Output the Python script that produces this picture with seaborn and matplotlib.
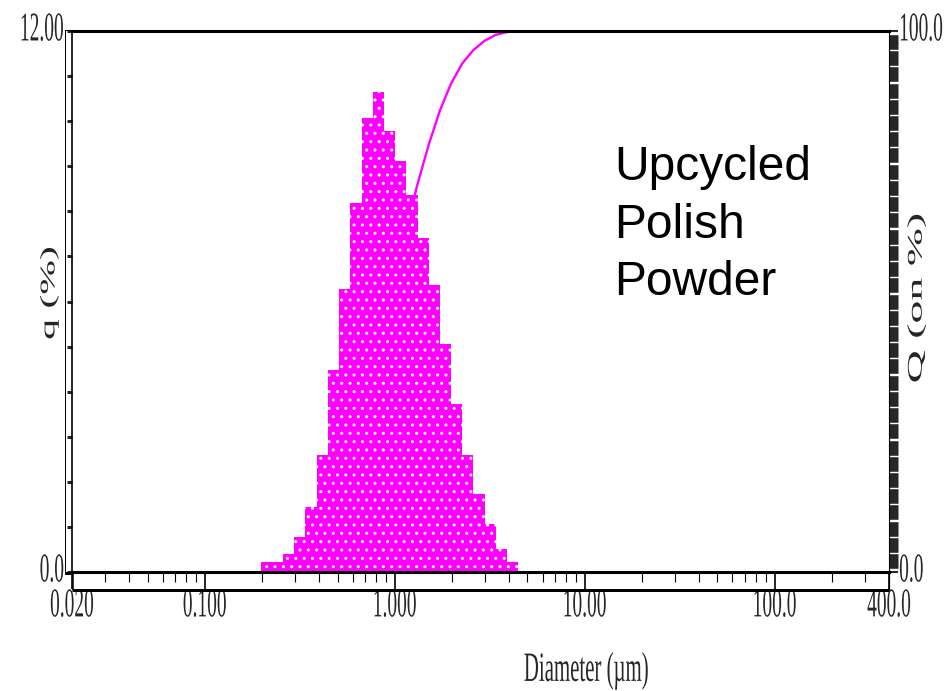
import numpy as np
import pandas as pd
import matplotlib
matplotlib.use("Agg")
import matplotlib.pyplot as plt
import seaborn as sns
from matplotlib.lines import Line2D
from matplotlib.patheffects import AbstractPathEffect
from matplotlib.transforms import Affine2D

# ---------------- data ----------------
bin_edges_um = [0.197, 0.226, 0.259, 0.296, 0.339, 0.389, 0.445, 0.510, 0.584,
                0.669, 0.766, 0.877, 1.005, 1.151, 1.318, 1.510, 1.729, 1.980,
                2.268, 2.598, 2.976, 3.408, 3.904, 4.472]
q_percent = [0.22, 0.22, 0.40, 0.78, 1.44, 2.60, 4.48, 6.28, 8.19, 10.07, 10.65,
             9.78, 9.12, 8.36, 7.41, 6.37, 5.06, 3.73, 2.60, 1.73, 1.06, 0.51, 0.22]
Q_diam_um = bin_edges_um + [400.0]
Q_percent = [0.0, 0.2, 0.4, 0.8, 1.6, 3.0, 5.6, 10.0, 16.2, 24.3, 34.2, 44.8, 54.4,
             63.4, 71.7, 79.0, 85.3, 90.3, 94.0, 96.5, 98.2, 99.3, 99.8, 100.0, 100.0]

x_tick_values = [0.02, 0.1, 1, 10, 100, 400]
x_tick_labels = ["0.020", "0.100", "1.000", "10.00", "100.0", "400.0"]
x_minor_values = [0.03, 0.04, 0.05, 0.06, 0.07, 0.08, 0.09,
                  0.2, 0.3, 0.4, 0.5, 0.6, 0.7, 0.8, 0.9,
                  2, 3, 4, 5, 6, 7, 8, 9,
                  20, 30, 40, 50, 60, 70, 80, 90, 200, 300]
left_tick_values = [0, 12]
left_tick_labels = ["0.0", "12.00"]
left_minor_values = [1, 2, 3, 4, 5, 6, 7, 8, 9, 10, 11]
right_tick_values = [0, 100]
right_tick_labels = ["0.0", "100.0"]
right_minor_values = list(range(2, 100, 3))

annotation = "Upcycled\nPolish\nPowder"
MAG = "#FF00FF"

# ---------------- style ----------------
sns.set_style("white")
plt.rcParams["font.family"] = ["Liberation Serif", "DejaVu Serif"]
plt.rcParams["hatch.linewidth"] = 1.0


class Stretch(AbstractPathEffect):
    """Draw text stretched around its own centre (mimics the narrow/tall font)."""

    def __init__(self, sx=1.0, sy=1.0, dx=0.0, dy=0.0):
        super().__init__()
        self.sx, self.sy, self.dx, self.dy = sx, sy, dx, dy

    def draw_path(self, renderer, gc, tpath, affine, rgbFace=None):
        ext = tpath.get_extents()
        cx = (ext.x0 + ext.x1) / 2.0
        cy = (ext.y0 + ext.y1) / 2.0
        t = (Affine2D().translate(-cx, -cy).scale(self.sx, self.sy).translate(cx, cy)
             + affine + Affine2D().translate(self.dx, self.dy))
        renderer.draw_path(gc, tpath, t, rgbFace)


W, H = 948, 691
fig = plt.figure(figsize=(W / 100, H / 100), dpi=100)
fig.patch.set_facecolor("white")
L, R, T, B = 72, 889, 31, 572
ax = fig.add_axes([L / W, 1 - B / H, (R - L) / W, (B - T) / H])
ax.set_xscale("log")
ax2 = ax.twinx()

# cumulative curve (behind the bars)
sns.lineplot(x=Q_diam_um, y=Q_percent, ax=ax2, color=MAG, linewidth=1.7, sort=False)

# frequency bars
centers = np.sqrt(np.array(bin_edges_um[:-1]) * np.array(bin_edges_um[1:]))
hist_df = pd.DataFrame({"diameter": centers, "q": q_percent})
log_edges = [float(v) for v in np.log10(bin_edges_um)]
sns.histplot(data=hist_df, x="diameter", weights="q", bins=log_edges, ax=ax,
             stat="count", color=MAG, alpha=1.0, edgecolor="white", linewidth=0,
             hatch="..")

ax.set_zorder(ax2.get_zorder() + 1)
ax.patch.set_visible(False)

ax.set_xlim(0.02, 400)
ax.set_ylim(0, 12)
ax2.set_ylim(0, 100)

# ---- x ticks ----
ax.set_xticks(x_tick_values)
ax.set_xticklabels(x_tick_labels)
ax.set_xticks(x_minor_values, minor=True)
ax.xaxis.set_minor_formatter(matplotlib.ticker.NullFormatter())
ax.tick_params(axis="x", which="major", direction="out", length=12.2, width=1.2,
               pad=5.4, labelsize=14, color="black", bottom=True)
ax.tick_params(axis="x", which="minor", direction="out", length=7.2, width=0.8,
               color="black", bottom=True)

# ---- left y ticks ----
ax.set_yticks(left_tick_values)
ax.set_yticklabels(left_tick_labels)
ax.set_yticks(left_minor_values, minor=True)
ax.tick_params(axis="y", which="both", direction="out", length=3.6, width=2.2,
               pad=2.2, labelsize=14, left=True, right=False)

# ---- right y ticks ----
ax2.set_yticks(right_tick_values)
ax2.set_yticklabels(right_tick_labels)
ax2.set_yticks(right_minor_values, minor=True)
ax2.tick_params(axis="y", which="major", direction="out", length=6.5, width=1.5,
                pad=0.8, labelsize=14, right=True, left=False)
ax2.tick_params(axis="y", which="minor", direction="out", length=6.5, width=10.5,
                right=True, left=False)
ax2.set_xlim(0.02, 400)

# ---- spines ----
for s in ["top", "bottom", "left"]:
    ax2.spines[s].set_visible(False)
ax.spines["right"].set_visible(False)
ax2.spines["right"].set_linewidth(0.8)
ax.spines["top"].set_linewidth(2.2)
ax.spines["bottom"].set_linewidth(2.2)
ax.spines["left"].set_linewidth(1.2)
for sp in list(ax.spines.values()) + list(ax2.spines.values()):
    sp.set_color("black")
ax.grid(False)
ax2.grid(False)

# ---- axis labels ----
ax.set_xlabel("Diameter (µm)", fontsize=15, va="center", ha="center")
ax.xaxis.set_label_coords((586.5 - L) / (R - L), (B - 671) / (B - T))
ax.set_ylabel("q (%)", fontsize=15, va="center", ha="center", rotation=90)
ax.yaxis.set_label_coords((49.5 - L) / (R - L), (B - 293) / (B - T))
ax2.set_ylabel("Q (on %)", fontsize=15, va="center", ha="center", rotation=90)
ax2.yaxis.set_label_coords((917 - L) / (R - L), (B - 298) / (B - T))

# ---- annotation ----
ax.text((614 - L) / (R - L), (B - 145) / (B - T), annotation, transform=ax.transAxes,
        fontsize=34.5, family=["Liberation Sans", "DejaVu Sans"], ha="left", va="top",
        linespacing=1.36, color="black")

# ---- frame decorations (outer band lines of the instrument plot) ----
def fx(x):
    return x / W


def fy(y):
    return 1 - y / H


frame_lines = [
    ([65, 65, 72], [574, 29.5, 29.5], 1.0),    # left outer line + top cap
    ([65, 72], [572.5, 572.5], 3.0),          # bottom line extension to the left
    ([72, 889], [589.5, 589.5], 3.0),         # lower band line
    ([72.5, 72.5], [572, 590], 1.5),          # band left edge
    ([889, 889], [572, 590], 1.2),            # band right edge
]
for xs, ys, lw in frame_lines:
    fig.add_artist(Line2D([fx(v) for v in xs], [fy(v) for v in ys], lw=lw * 0.72,
                          color="black", transform=fig.transFigure,
                          solid_capstyle="butt"))

# stretched (tall, narrow) serif look for the instrument texts
fig.canvas.draw()
for lab in ax.get_xticklabels():
    lab.set_path_effects([Stretch(sy=2.1)])
for lab in ax.get_yticklabels():
    lab.set_path_effects([Stretch(sy=2.1, dy=4)])
for lab in ax2.get_yticklabels():
    lab.set_path_effects([Stretch(sy=2.1, dy=4)])
ax.xaxis.label.set_path_effects([Stretch(sy=2.0)])
ax.yaxis.label.set_path_effects([Stretch(sx=2.0)])
ax2.yaxis.label.set_path_effects([Stretch(sx=2.2)])

fig.savefig("out.png", dpi=100, facecolor="white")
